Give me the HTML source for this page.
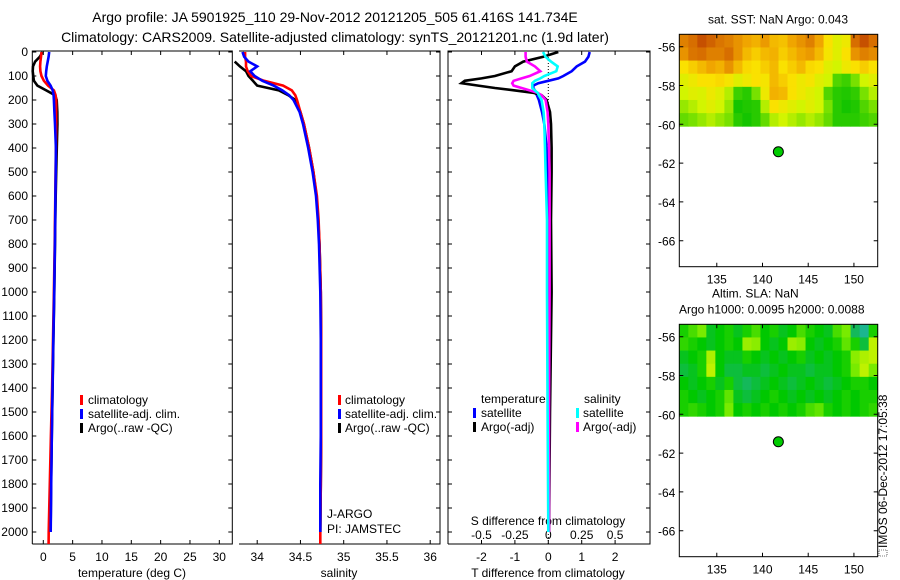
<!DOCTYPE html>
<html><head><meta charset="utf-8"><style>
html,body{margin:0;padding:0;background:#fff;}
svg{display:block;font-family:"Liberation Sans",Arial,sans-serif;}
</style></head><body>
<svg id="fig" width="900" height="580" viewBox="0 0 900 580">
<text x="335" y="22" font-size="14" text-anchor="middle">Argo profile: JA 5901925_110 29-Nov-2012 20121205_505 61.416S 141.734E</text>
<text x="335" y="42" font-size="14" text-anchor="middle">Climatology: CARS2009. Satellite-adjusted climatology: synTS_20121201.nc (1.9d later)</text>
<g id="g1"></g>
<g id="g2"></g>
<g id="g3"></g>
<g id="g4"></g>
<g id="g5"></g>
<text transform="translate(887,548) rotate(-90)" font-size="12">IMOS 06-Dec-2012 17:05:38</text>
<rect x="879" y="550" width="8" height="6" fill="none" stroke="#000" stroke-width="0.6" stroke-dasharray="1,1"/>
</svg>
<script>
// ---------- profile data ----------
const tDepth = [0,20,40,60,80,100,120,140,160,180,200,250,300,400,500,600,700,800,1000,1200,1400,1600,1800,2000,2050];
const tClim  = [-0.3,-0.4,-0.5,-0.55,-0.5,-0.3,0.1,0.8,1.8,2.1,2.2,2.2,2.2,2.15,2.1,2.05,2.0,1.95,1.8,1.65,1.5,1.3,1.1,0.92,0.9];
const tSat   = [1.0,0.9,0.75,0.6,0.5,0.42,0.7,1.25,1.6,1.75,1.8,1.9,2.0,2.15,2.12,2.07,2.02,1.97,1.85,1.7,1.57,1.45,1.35,1.26,null];
const tArgo  = [-0.1,-0.6,-1.4,-1.75,-1.8,-1.7,-1.6,-1.0,0.5,2.0,2.28,2.38,2.4,2.3,2.2,2.12,2.05,2.0,1.88,1.72,1.58,1.45,1.33,1.25,null];
const sDepth = [0,20,40,60,80,100,120,140,160,180,200,250,300,400,500,600,700,800,1000,1200,1400,1600,1800,2000,2050];
const sClim  = [33.86,33.86,33.87,33.87,33.89,33.93,34.08,34.3,34.4,34.44,34.46,34.5,34.54,34.6,34.65,34.69,34.71,34.72,34.735,34.74,34.74,34.74,34.735,34.73,34.73];
const sSat   = [33.83,33.85,33.9,34.0,33.92,33.97,34.06,34.19,34.29,34.37,34.42,34.49,34.53,34.59,34.64,34.68,34.7,34.715,34.73,34.735,34.735,34.735,34.73,34.73,null];
const sArgo  = [null,null,33.74,33.8,33.87,33.9,33.95,34.0,34.25,34.36,34.44,34.5,34.54,34.6,34.65,34.685,34.705,34.72,34.735,34.74,34.74,34.74,34.735,34.73,null];
const dDepth = [0,20,40,60,80,100,110,120,130,140,150,160,170,180,200,250,300,400,500,700,1000,1500,2000];
const dTArgo = [0.3,-0.15,-0.75,-1.0,-1.1,-1.6,-2.0,-2.5,-2.6,-2.1,-1.6,-1.0,-0.45,-0.2,-0.05,0.05,0.08,0.1,0.1,0.08,0.1,0.05,0.02];
const dTSat  = [1.24,1.2,1.1,0.85,0.7,0.45,0.3,0.0,-0.3,-0.45,-0.45,-0.4,-0.38,-0.34,-0.28,-0.19,-0.12,-0.05,-0.02,0,0,0,0];
const dSArgo = [-0.17,-0.17,-0.16,-0.1,-0.06,-0.14,-0.2,-0.26,-0.27,-0.26,-0.2,-0.14,-0.08,-0.05,-0.02,-0.005,0,0.005,0.01,0.01,0.01,0.005,0.005];
const dSSat  = [-0.04,-0.02,0.02,0.07,0.06,-0.03,-0.06,-0.1,-0.12,-0.12,-0.12,-0.1,-0.08,-0.07,-0.05,-0.035,-0.03,-0.025,-0.02,-0.01,-0.01,-0.005,0];
const depthTicks = [0,100,200,300,400,500,600,700,800,900,1000,1100,1200,1300,1400,1500,1600,1700,1800,1900,2000];
const tTicks = [0,5,10,15,20,25,30];
const sTicks = [34,34.5,35,35.5,36];
const sTickLabels = ["34","34.5","35","35.5","36"];
const dTTicks = [-2,-1,0,1,2];
const dSTicks = [-0.5,-0.25,0,0.25,0.5];
const dSTickLabels = ["-0.5","-0.25","0","0.25","0.5"];
// ---------- map data ----------
const latTicks = [-56,-58,-60,-62,-64,-66];
const lonTicks = [135,140,145,150];
const argoLon = 141.734, argoLat = -61.416;
const sstGrid = [
 [0.85,0.9,0.95,0.92,0.88,0.85,0.8,0.75,0.72,0.78,0.7,0.68,0.75,0.8,0.85,0.75,0.6,0.5,0.55,0.9,0.95,0.9],
 [0.8,0.88,0.9,0.85,0.85,0.9,0.8,0.7,0.65,0.7,0.72,0.65,0.7,0.75,0.78,0.7,0.58,0.5,0.6,0.8,0.85,0.82],
 [0.6,0.65,0.7,0.75,0.72,0.8,0.7,0.62,0.6,0.65,0.7,0.6,0.65,0.7,0.62,0.6,0.5,0.45,0.55,0.6,0.65,0.6],
 [0.5,0.55,0.6,0.6,0.62,0.58,0.5,0.55,0.6,0.58,0.7,0.65,0.6,0.55,0.58,0.5,0.45,0.2,0.15,0.3,0.45,0.5],
 [0.45,0.5,0.48,0.55,0.5,0.4,0.15,0.1,0.3,0.55,0.72,0.7,0.6,0.55,0.5,0.45,0.2,0.1,0.08,0.12,0.3,0.4],
 [0.35,0.4,0.45,0.5,0.45,0.35,0.05,0.08,0.1,0.4,0.6,0.55,0.5,0.45,0.5,0.45,0.3,0.1,0.05,0.08,0.2,0.3],
 [0.25,0.3,0.35,0.4,0.35,0.3,0.1,0.05,0.1,0.25,0.4,0.45,0.4,0.35,0.4,0.35,0.25,0.1,0.1,0.1,0.15,0.2]
];
const slaGrid = [
 [0.5,0.6,0.7,0.4,0.45,0.5,0.4,0.5,0.6,0.45,0.5,0.4,0.45,0.6,0.5,0.45,0.4,0.6,0.7,0.3,0.1,0.5],
 [0.55,0.5,0.45,0.4,0.45,0.5,0.45,0.8,0.75,0.45,0.4,0.45,0.8,0.75,0.45,0.4,0.45,0.5,0.65,0.5,0.35,0.9],
 [0.4,0.45,0.5,0.85,0.45,0.4,0.4,0.5,0.45,0.4,0.45,0.4,0.45,0.5,0.4,0.45,0.4,0.45,0.5,0.75,0.85,0.9],
 [0.35,0.4,0.5,0.9,0.45,0.35,0.35,0.4,0.4,0.35,0.4,0.45,0.4,0.4,0.35,0.4,0.4,0.45,0.5,0.7,0.9,0.7],
 [0.45,0.4,0.45,0.5,0.4,0.5,0.35,0.3,0.35,0.4,0.45,0.4,0.35,0.4,0.45,0.4,0.35,0.4,0.45,0.5,0.5,0.45],
 [0.5,0.45,0.4,0.45,0.5,0.65,0.4,0.35,0.4,0.45,0.5,0.45,0.4,0.45,0.4,0.45,0.4,0.45,0.5,0.45,0.5,0.5],
 [0.5,0.55,0.5,0.45,0.5,0.7,0.45,0.5,0.45,0.5,0.45,0.5,0.45,0.5,0.6,0.65,0.5,0.45,0.5,0.45,0.5,0.55]
];

const NS = "http://www.w3.org/2000/svg";
function mk(parent, tag, attrs, text){
  const e = document.createElementNS(NS, tag);
  for (const k in attrs) e.setAttribute(k, attrs[k]);
  if (text !== undefined) e.textContent = text;
  parent.appendChild(e);
  return e;
}
const yTop = 51, yBot = 544;
function yD(d){ return 52 + d*0.24; }

function profileLine(g, depths, vals, xf, color, name){
  let pts = [];
  for (let i=0;i<depths.length;i++){
    if (vals[i]===null || vals[i]===undefined) continue;
    pts.push(xf(vals[i]).toFixed(1)+","+yD(depths[i]).toFixed(1));
  }
  const p = mk(g,"polyline",{points:pts.join(" "),fill:"none",stroke:color,"stroke-width":2.6,"stroke-linejoin":"miter"});
  
  
}
function frame(g, x0, x1, leftLine, name){
  const f = mk(g,"path",{d:(leftLine?`M${x0},${yBot} V${yTop} `:`M${x0},${yTop} `)+`H${x1} V${yBot} H${x0}`,fill:"none",stroke:"#000","stroke-width":1});
  
  
  for (const d of depthTicks){
    const y = yD(d);
    const t = mk(g,"path",{d:(leftLine?`M${x0},${y} h4 `:"")+`M${x1},${y} h-4`,stroke:"#000","stroke-width":1});
    
    
  }
}
function xTicks(g, ticks, labels, xf, ly, name, top){
  ticks.forEach((v,i)=>{
    const x = xf(v);
    const t = mk(g,"path",{d:`M${x},${yBot} v-4`+(top?` M${x},${yTop} v4`:""),stroke:"#000","stroke-width":1});
    
    
    const l = mk(g,"text",{x:x,y:ly,"font-size":12,"text-anchor":"middle"}, labels[i]);
    
    
  });
}
function label(g, x, y, txt, name, anchor){
  const t = mk(g,"text",{x:x,y:y,"font-size":12,"text-anchor":anchor||"start"}, txt);
  
  
}
function legendBar(g, x, y, color, name){
  const r = mk(g,"rect",{x:x,y:y-9,width:3,height:10,fill:color});
  
  
}

// ----- panel 1: temperature -----
const g1 = document.getElementById("g1");
const xT = v => 43.3 + v*5.867;
frame(g1, 32.3, 232.3, true, "temperature-axes-box");
depthTicks.forEach(d=>{ label(g1, 28, yD(d)+4, String(d), "depth-tick-label", "end"); });
xTicks(g1, tTicks, tTicks.map(String), xT, 561, "temperature", true);
label(g1, 132, 577, "temperature (deg C)", "temperature-axis-title", "middle");
profileLine(g1, tDepth, tArgo, xT, "#000000", "temperature-argo-line");
profileLine(g1, tDepth, tClim, xT, "#ff0000", "temperature-climatology-line");
profileLine(g1, tDepth, tSat, xT, "#0000ff", "temperature-satellite-line");
legendBar(g1, 80, 404, "#ff0000", "legend-climatology-swatch");
label(g1, 88, 404, "climatology", "legend-climatology");
legendBar(g1, 80, 418, "#0000ff", "legend-satellite-swatch");
label(g1, 88, 418, "satellite-adj. clim.", "legend-satellite");
legendBar(g1, 80, 432, "#000000", "legend-argo-swatch");
label(g1, 88, 432, "Argo(..raw -QC)", "legend-argo");

// ----- panel 2: salinity -----
const g2 = document.getElementById("g2");
const xS = v => 257.2 + (v-34)*86.5;
frame(g2, 239, 440, false, "salinity-axes-box");
xTicks(g2, sTicks, sTickLabels, xS, 561, "salinity", true);
label(g2, 339, 577, "salinity", "salinity-axis-title", "middle");
profileLine(g2, sDepth, sArgo, xS, "#000000", "salinity-argo-line");
profileLine(g2, sDepth, sClim, xS, "#ff0000", "salinity-climatology-line");
profileLine(g2, sDepth, sSat, xS, "#0000ff", "salinity-satellite-line");
legendBar(g2, 338, 404, "#ff0000", "legend-climatology-swatch");
label(g2, 345, 404, "climatology", "legend-climatology");
legendBar(g2, 338, 418, "#0000ff", "legend-satellite-swatch");
label(g2, 345, 418, "satellite-adj. clim.", "legend-satellite");
legendBar(g2, 338, 432, "#000000", "legend-argo-swatch");
label(g2, 345, 432, "Argo(..raw -QC)", "legend-argo");
label(g2, 327, 518, "J-ARGO", "float-program-label");
label(g2, 327, 533, "PI: JAMSTEC", "float-pi-label");

// ----- panel 3: differences -----
const g3 = document.getElementById("g3");
const xDT = v => 548.3 + v*33.4;
const xDS = v => 548.3 + v*133.6;
frame(g3, 448, 650, true, "difference-axes-box");
const zl = mk(g3,"line",{x1:xDT(0),x2:xDT(0),y1:yTop,y2:yBot,stroke:"#000","stroke-width":1,"stroke-dasharray":"1,2"});


xTicks(g3, dTTicks, dTTicks.map(String), xDT, 561, "t-difference", true);
dSTicks.forEach((v,i)=>{ label(g3, xDS(v), 539, dSTickLabels[i], "s-difference-tick-label", "middle"); });
label(g3, 548, 525, "S difference from climatology", "s-difference-axis-title", "middle");
label(g3, 548, 577, "T difference from climatology", "t-difference-axis-title", "middle");
profileLine(g3, dDepth, dTSat, xDT, "#0000ff", "t-diff-satellite-line");
profileLine(g3, dDepth, dTArgo, xDT, "#000000", "t-diff-argo-line");
profileLine(g3, dDepth, dSArgo, xDS, "#ff00ff", "s-diff-argo-line");
profileLine(g3, dDepth, dSSat, xDS, "#00ffff", "s-diff-satellite-line");
label(g3, 481, 403, "temperature", "legend-temperature-heading");
label(g3, 584, 403, "salinity", "legend-salinity-heading");
legendBar(g3, 473, 417, "#0000ff", "legend-t-satellite-swatch");
label(g3, 481, 417, "satellite", "legend-t-satellite");
legendBar(g3, 473, 431, "#000000", "legend-t-argo-swatch");
label(g3, 481, 431, "Argo(-adj)", "legend-t-argo");
legendBar(g3, 576, 417, "#00ffff", "legend-s-satellite-swatch");
label(g3, 583, 417, "satellite", "legend-s-satellite");
legendBar(g3, 576, 431, "#ff00ff", "legend-s-argo-swatch");
label(g3, 583, 431, "Argo(-adj)", "legend-s-argo");

// ----- maps -----
function lerpColor(stops, v){
  v = Math.max(0, Math.min(1, v));
  for (let i=1;i<stops.length;i++){
    if (v <= stops[i][0]){
      const a = stops[i-1], b = stops[i];
      const t = (v-a[0])/(b[0]-a[0]);
      const c = [0,1,2].map(k=>Math.round(a[1][k]+(b[1][k]-a[1][k])*t));
      return `rgb(${c[0]},${c[1]},${c[2]})`;
    }
  }
  const l = stops[stops.length-1][1];
  return `rgb(${l[0]},${l[1]},${l[2]})`;
}
const sstStops = [[0,[0,190,0]],[0.3,[120,225,0]],[0.45,[210,245,0]],[0.6,[250,225,0]],[0.75,[240,165,0]],[0.9,[215,110,0]],[1,[180,50,0]]];
const slaStops = [[0,[30,180,170]],[0.3,[20,185,90]],[0.45,[0,200,0]],[0.7,[120,235,0]],[1,[225,245,0]]];

function drawMap(g, top, grid, stops, title1, title2, prefix){
  const left = 679.3, right = 877.7, bottom = top + 232.4;
  const lonMin = 130.9, lonMax = 152.6, latMax = -55.36, latMin = -67.34;
  const xL = lon => left + (lon-lonMin)/(lonMax-lonMin)*(right-left);
  const yL = lat => top + (latMax-lat)/(latMax-latMin)*(bottom-top);
  const rows = grid.length, cols = grid[0].length;
  const latEdge = -60.1;
  for (let r=0;r<rows;r++){
    for (let c=0;c<cols;c++){
      const lon0 = lonMin + c*(lonMax-lonMin)/cols, lon1 = lonMin + (c+1)*(lonMax-lonMin)/cols;
      const la0 = latMax - r*(latMax-latEdge)/rows, la1 = latMax - (r+1)*(latMax-latEdge)/rows;
      const cell = mk(g,"rect",{x:xL(lon0).toFixed(2),y:yL(la0).toFixed(2),width:(xL(lon1)-xL(lon0)+0.4).toFixed(2),height:(yL(la1)-yL(la0)+0.4).toFixed(2),fill:lerpColor(stops, grid[r][c])});
      
      
    }
  }
  const box = mk(g,"rect",{x:left,y:top,width:right-left,height:bottom-top,fill:"none",stroke:"#000","stroke-width":1});
  
  
  latTicks.forEach(v=>{
    const y = yL(v);
    const t = mk(g,"path",{d:`M${left},${y} h4 M${right},${y} h-4`,stroke:"#000","stroke-width":1});
    
    
    label(g, left-4, y+5, String(v), prefix+"-lat-tick-label", "end");
  });
  lonTicks.forEach(v=>{
    const x = xL(v);
    const t = mk(g,"path",{d:`M${x},${bottom} v-4 M${x},${top} v4`,stroke:"#000","stroke-width":1});
    
    
    label(g, x, bottom+17, String(v), prefix+"-lon-tick-label", "middle");
  });
  const dot = mk(g,"circle",{cx:xL(argoLon),cy:yL(argoLat),r:5,fill:"#00cc00",stroke:"#000","stroke-width":1});
  
  
  if (title2){
    label(g, 712, top-27, title1, prefix+"-title-1", "start");
    label(g, 679, top-11, title2, prefix+"-title-2", "start");
  } else {
    label(g, 778, top-11, title1, prefix+"-title", "middle");
  }
}
drawMap(document.getElementById("g4"), 34.3, sstGrid, sstStops, "sat. SST: NaN Argo: 0.043", null, "sst");
drawMap(document.getElementById("g5"), 324.3, slaGrid, slaStops, "Altim. SLA: NaN", "Argo h1000: 0.0095 h2000: 0.0088", "sla");
</script>
</body></html>
